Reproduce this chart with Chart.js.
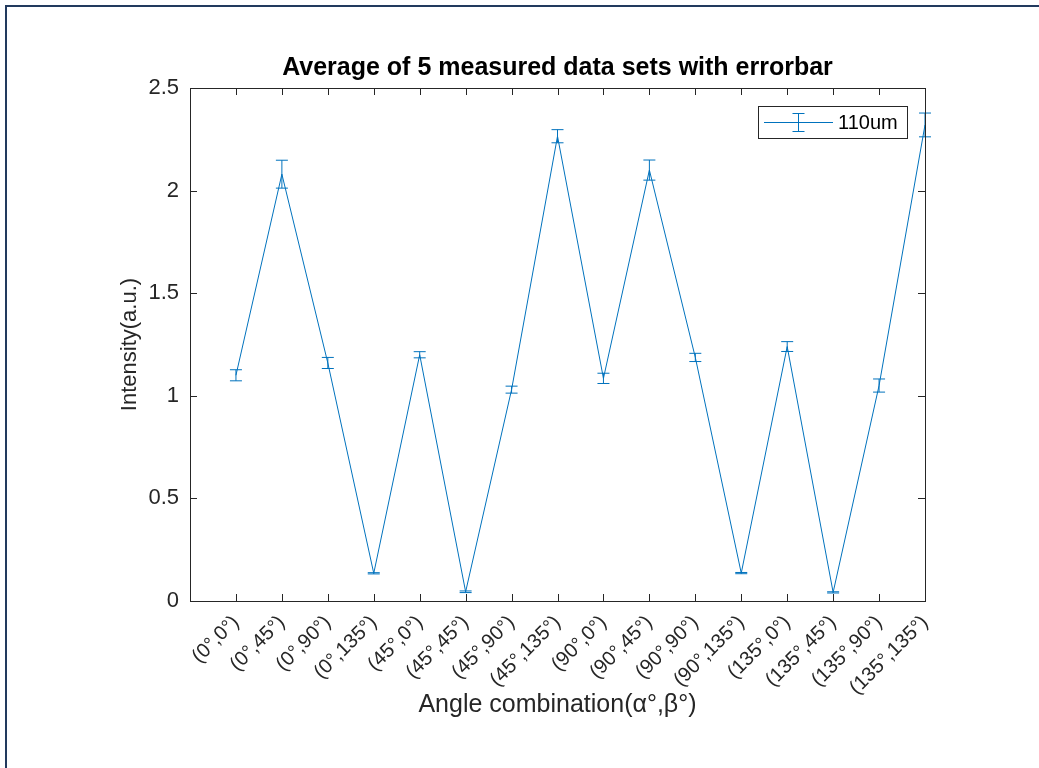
<!DOCTYPE html>
<html>
<head>
<meta charset="utf-8">
<script src="https://cdn.jsdelivr.net/npm/chart.js@4/dist/chart.umd.min.js"></script>
<style>
  html, body { margin: 0; padding: 0; background: #fff; }
  #wrap { position: relative; width: 1039px; height: 768px; }
  #frame {
    position: absolute; left: 5px; top: 5px; right: 0; bottom: 0;
    border-top: 2px solid #223a5e; border-left: 2px solid #223a5e;
    pointer-events: none;
  }
</style>
</head>
<body>
<div id="wrap">
  <canvas id="chart" width="1039" height="768"></canvas>
  <div id="frame"></div>
</div>
<script>
// Angle combinations (alpha, beta)
const categories = [
  '(0°,0°)', '(0°,45°)', '(0°,90°)', '(0°,135°)',
  '(45°,0°)', '(45°,45°)', '(45°,90°)', '(45°,135°)',
  '(90°,0°)', '(90°,45°)', '(90°,90°)', '(90°,135°)',
  '(135°,0°)', '(135°,45°)', '(135°,90°)', '(135°,135°)'
];
// average intensity of the 5 measured sets
const meanValues = [1.10, 2.08, 1.16, 0.135, 1.20, 0.045, 1.03, 2.265,
                    1.085, 2.10, 1.187, 0.136, 1.24, 0.042, 1.05, 2.32];
// half length of the error bar
const errValues = [0.027, 0.068, 0.027, 0.003, 0.015, 0.004, 0.017, 0.032,
                   0.025, 0.049, 0.020, 0.003, 0.024, 0.003, 0.032, 0.058];
const yTicks = [0, 0.5, 1, 1.5, 2, 2.5];
const seriesLabel = '110um';

const lineColor = '#0072BD';
const axisColor = '#262626';
const fontFamily = 'Arial, "Liberation Sans", Helvetica, sans-serif';

const points = meanValues.map((v, i) => ({ x: i + 1, y: v }));

// error bars + MATLAB style box, inward ticks and legend
const matlabPlugin = {
  id: 'matlabPlugin',
  afterDatasetsDraw(chart) {
    const { ctx, chartArea: a, scales: { x, y } } = chart;
    ctx.save();

    // error bars
    ctx.strokeStyle = lineColor;
    ctx.lineWidth = 1;
    const cap = 6;
    meanValues.forEach((v, i) => {
      const px = x.getPixelForValue(i + 1);
      const top = y.getPixelForValue(v + errValues[i]);
      const bot = y.getPixelForValue(v - errValues[i]);
      ctx.beginPath();
      ctx.moveTo(px, top); ctx.lineTo(px, bot);
      ctx.moveTo(px - cap, top); ctx.lineTo(px + cap, top);
      ctx.moveTo(px - cap, bot); ctx.lineTo(px + cap, bot);
      ctx.stroke();
    });

    // axes box
    ctx.strokeStyle = axisColor;
    ctx.lineWidth = 1;
    ctx.strokeRect(a.left + 0.5, a.top + 0.5, a.right - a.left, a.bottom - a.top);

    // inward ticks
    const tl = 7;
    ctx.beginPath();
    categories.forEach((c, i) => {
      const px = Math.round(x.getPixelForValue(i + 1)) + 0.5;
      ctx.moveTo(px, a.bottom); ctx.lineTo(px, a.bottom - tl);
      ctx.moveTo(px, a.top); ctx.lineTo(px, a.top + tl);
    });
    yTicks.forEach(t => {
      const py = Math.round(y.getPixelForValue(t)) + 0.5;
      ctx.moveTo(a.left, py); ctx.lineTo(a.left + tl, py);
      ctx.moveTo(a.right, py); ctx.lineTo(a.right - tl, py);
    });
    ctx.stroke();

    // legend
    const lx = 758, ly = 106, lw = 149, lh = 32;
    ctx.fillStyle = '#fff';
    ctx.fillRect(lx, ly, lw, lh);
    ctx.strokeStyle = axisColor;
    ctx.strokeRect(lx + 0.5, ly + 0.5, lw, lh);
    ctx.strokeStyle = lineColor;
    ctx.beginPath();
    const my = ly + lh / 2 + 0.5;
    ctx.moveTo(lx + 6, my); ctx.lineTo(lx + 75, my);
    const ex = lx + 40.5;
    ctx.moveTo(ex, ly + 7); ctx.lineTo(ex, ly + 26);
    ctx.moveTo(ex - 6, ly + 7.5); ctx.lineTo(ex + 6, ly + 7.5);
    ctx.moveTo(ex - 6, ly + 25.5); ctx.lineTo(ex + 6, ly + 25.5);
    ctx.stroke();
    ctx.fillStyle = '#000';
    ctx.font = '20px ' + fontFamily;
    ctx.textBaseline = 'middle';
    ctx.textAlign = 'left';
    ctx.fillText(seriesLabel, lx + 80, my + 1);

    ctx.restore();
  }
};

new Chart(document.getElementById('chart'), {
  type: 'line',
  data: {
    datasets: [{
      label: seriesLabel,
      data: points,
      borderColor: lineColor,
      borderWidth: 1,
      pointRadius: 0,
      tension: 0,
      fill: false
    }]
  },
  options: {
    responsive: false,
    animation: false,
    layout: { padding: { left: 0, right: 114, top: 0, bottom: 0 } },
    plugins: {
      legend: { display: false },
      tooltip: { enabled: false },
      title: {
        display: true,
        fullSize: false,
        text: 'Average of 5 measured data sets with errorbar',
        color: '#000',
        font: { family: fontFamily, size: 25, weight: 'bold' },
        padding: { top: 53, bottom: 5 }
      }
    },
    scales: {
      x: {
        type: 'linear',
        min: 0,
        max: 16,
        afterFit(scale) { scale.height = 167; },
        afterBuildTicks(scale) {
          scale.ticks = categories.map((c, i) => ({ value: i + 1 }));
        },
        grid: { display: false, drawTicks: false },
        border: { display: false },
        ticks: {
          autoSkip: false,
          maxRotation: 45,
          minRotation: 45,
          padding: 10,
          color: axisColor,
          font: { family: fontFamily, size: 20 },
          callback: (v) => categories[v - 1] || ''
        },
        title: {
          display: true,
          text: 'Angle combination(α°,β°)',
          color: axisColor,
          font: { family: fontFamily, size: 25 },
          padding: { top: 0, bottom: 48 }
        }
      },
      y: {
        min: 0,
        max: 2.5,
        afterFit(scale) { scale.width = 190; },
        afterBuildTicks(scale) {
          scale.ticks = yTicks.map(t => ({ value: t }));
        },
        grid: { display: false, drawTicks: false },
        border: { display: false },
        ticks: {
          padding: 11,
          color: axisColor,
          font: { family: fontFamily, size: 22 },
          callback: (v) => String(v)
        },
        title: {
          display: true,
          text: 'Intensity(a.u.)',
          color: axisColor,
          font: { family: fontFamily, size: 22 },
          padding: { top: 117, bottom: 0 }
        }
      }
    }
  },
  plugins: [matlabPlugin]
});
</script>
</body>
</html>
